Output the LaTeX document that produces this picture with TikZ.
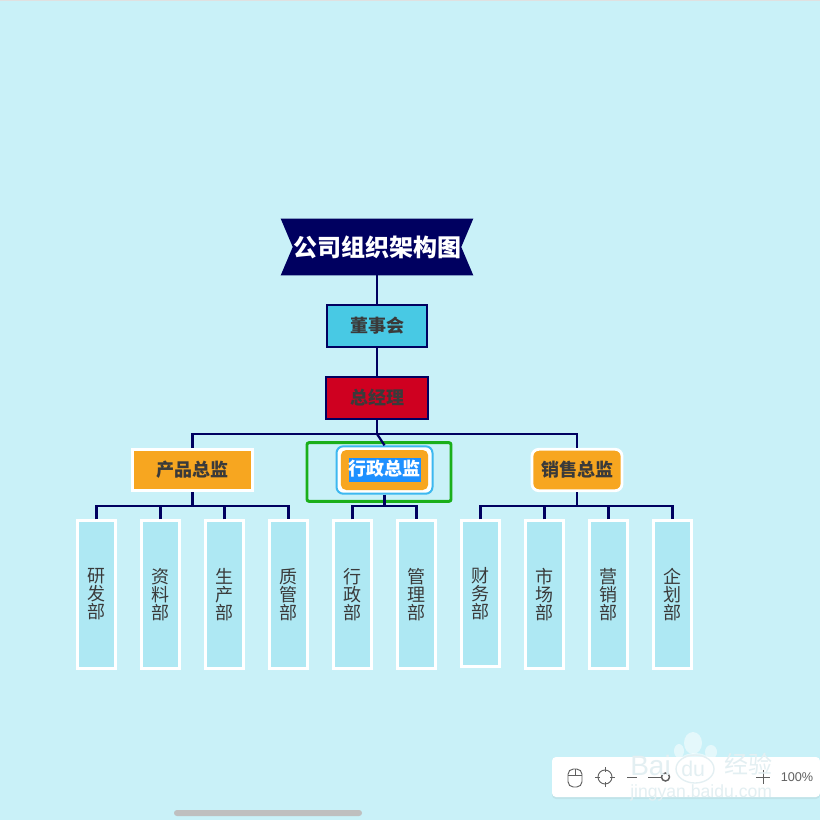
\documentclass[tikz,border=0pt]{standalone}
\usepackage{fontspec}
\setmainfont{Noto Sans CJK SC}
\newfontfamily\uifont{Liberation Sans}
\usepackage{xcolor}
\usetikzlibrary{calc,shadows}
\definecolor{pagebg}{HTML}{C9F1F8}
\definecolor{navy}{HTML}{000060}
\definecolor{boardblue}{HTML}{48C9E4}
\definecolor{gmred}{HTML}{CF0020}
\definecolor{chiefgold}{HTML}{F7A620}
\definecolor{deptblue}{HTML}{AEE8F3}
\definecolor{inktext}{HTML}{3A3A3A}
\definecolor{pickblue}{HTML}{1E90FF}
\definecolor{ringblue}{HTML}{3DB8F0}
\definecolor{pickgreen}{HTML}{1AAF1A}
\definecolor{uigray}{HTML}{606060}
\definecolor{wmtint}{HTML}{E3EFF2}
\setlength{\fboxsep}{0pt}

\begin{document}
\begin{tikzpicture}[
  x=0.75pt, y=-0.75pt,
  link/.style={draw=navy, line width=1.7pt},
  head/.style={draw=navy, line width=1.6pt, minimum height=31pt, inner sep=0pt, text=inktext, font=\fontsize{13.5}{16}\selectfont\bfseries},
  chief/.style={draw=white, line width=2.1pt, fill=chiefgold, minimum height=31pt, inner sep=0pt, text=inktext, font=\fontsize{13.5}{16}\selectfont\bfseries},
  dept/.style={draw=white, line width=2.2pt, fill=deptblue, minimum width=28.5pt, minimum height=110.5pt, inner sep=0pt, align=center, text=inktext, font=\fontsize{13.5}{13.5}\selectfont},
  tool/.style={draw=uigray, line width=0.7pt},
  wmshape/.style={fill=white, fill opacity=0.5, draw=none},
  marktext/.style={text=wmtint, inner sep=0pt, font=\uifont}]
  \fill[pagebg] (0,0) rectangle (820,820);
  \fill[black!12] (0,0) rectangle (820,1.5);
  % top of the chart
  \node[minimum width=144pt, minimum height=42pt, inner sep=0pt] (banner) at (377,247) {};
  \fill[navy] (banner.north west) -- (banner.north east) -- ($(banner.east)+(-12,0)$) -- (banner.south east) -- (banner.south west) -- ($(banner.west)+(12,0)$) -- cycle;
  \node[text=white, inner sep=0pt, font=\fontsize{18}{20}\selectfont\bfseries] (title) at (banner) {公司组织架构图};
  \node[head, fill=boardblue, minimum width=75pt] (board) at (377,326) {董事会};
  \node[head, fill=gmred, minimum width=76.5pt] (gm) at (377,398) {总经理};
  % the three chiefs
  \coordinate (bus) at (377,434);
  \node[chief, minimum width=90pt] (product) at (192.5,470) {产品总监};
  \node[draw=pickgreen, line width=2.2pt, rounded corners=1.5pt, minimum width=108pt, minimum height=44pt, inner sep=0pt] (pick) at (379,472) {};
  \node[draw=ringblue, fill=white, line width=1.5pt, rounded corners=5pt, minimum width=72pt, minimum height=35.5pt, inner sep=0pt] (ring) at (384.5,470) {};
  \node[chief, draw=none, rounded corners=4pt, minimum width=65.5pt, minimum height=30pt] (admin) at (384.5,470) {\colorbox{pickblue}{\textcolor{white}{\raisebox{0pt}[13pt][5pt]{行政总监}}}};
  \node[chief, rounded corners=5pt, minimum width=67.5pt] (sales) at (577,470) {销售总监};
  \draw[link] (gm) -- (bus);
  \draw[link] (product.north) |- (bus) -| (sales.north);
  \draw[link] (bus) -- (ring.north);
  % departments
  \coordinate (prodbus) at (192.5,506);
  \coordinate (adminbus) at (384.5,506);
  \coordinate (salesbus) at (577,506);
  \node[dept] (yanfa) at (96.5,594.5) {研\\发\\部};
  \node[dept] (ziliao) at (160.5,594.5) {资\\料\\部};
  \node[dept] (shengchan) at (224.5,594.5) {生\\产\\部};
  \node[dept] (zhiguan) at (288.5,594.5) {质\\管\\部};
  \node[dept] (xingzheng) at (352.5,594.5) {行\\政\\部};
  \node[dept] (guanli) at (416.5,594.5) {管\\理\\部};
  \node[dept, minimum height=109pt] (caiwu) at (480.5,593.5) {财\\务\\部};
  \node[dept] (shichang) at (544.5,594.5) {市\\场\\部};
  \node[dept] (yingxiao) at (608.5,594.5) {营\\销\\部};
  \node[dept] (qihua) at (672.5,594.5) {企\\划\\部};
  \draw[link] (title.north |- banner.south) -- (board);
  \draw[link] (board) -- (gm);
  \draw[link] (product) -- (prodbus);
  \draw[link] (ring) -- (adminbus);
  \draw[link] (sales) -- (salesbus);
  \draw[link] (yanfa.north) |- (prodbus) -| (zhiguan.north);
  \draw[link] (ziliao.north) -- (ziliao.north |- prodbus);
  \draw[link] (shengchan.north) -- (shengchan.north |- prodbus);
  \draw[link] (xingzheng.north) |- (adminbus) -| (guanli.north);
  \draw[link] (caiwu.north) |- (salesbus) -| (qihua.north);
  \draw[link] (shichang.north) -- (shichang.north |- salesbus);
  \draw[link] (yingxiao.north) -- (yingxiao.north |- salesbus);
  % viewer furniture
  \fill[black!25, rounded corners=2.2pt] (174,810) rectangle (362,816);
  \fill[white, rounded corners=3pt, drop shadow={opacity=0.12, shadow xshift=0pt, shadow yshift=-1.5pt}] (552,757) rectangle (820,797);
  \draw[tool, rounded corners=4pt] (568,769) rectangle (582,787);
  \draw[tool] (568,775) -- (582,775) (575,769) -- (575,775);
  \draw[tool] (605,777) circle (7);
  \draw[tool] (605,767) -- (605,772) (605,782) -- (605,787) (595,777) -- (600,777) (610,777) -- (615,777);
  \draw[tool] (627,777) -- (637,777) (648,777) -- (661,777);
  \draw[tool, line width=1.1pt, fill=white] (665.5,777) circle (4);
  \draw[tool] (756,777) -- (770,777) (763,770) -- (763,784);
  \node[text=uigray, inner sep=0pt, font=\uifont\fontsize{9.5}{11}\selectfont] (zoomlabel) at (797,777.5) {100\%};
  % watermark
  \fill[wmshape] (693,743) ellipse (9 and 11);
  \fill[wmshape] (679,751) ellipse (5 and 7);
  \fill[wmshape] (711,752) ellipse (6 and 7);
  \fill[wmshape] (695,768) ellipse (20 and 15);
  \draw[wmtint, line width=1pt] (695,769) ellipse (19 and 14);
  \node[marktext, anchor=west, font=\uifont\fontsize{21}{23}\selectfont] (wmbai) at (630,765) {Bai};
  \node[marktext, anchor=west, font=\uifont\fontsize{16}{18}\selectfont] (wmdu) at (681,769) {du};
  \node[marktext, anchor=west, font=\fontsize{18}{20}\selectfont] (wmjy) at (724,764) {经验};
  \node[marktext, anchor=west, font=\uifont\fontsize{13.2}{15}\selectfont] (wmurl) at (630,793) {jingyan.baidu.com};
  \useasboundingbox (0,0) rectangle (820,820);
\end{tikzpicture}
\end{document}
